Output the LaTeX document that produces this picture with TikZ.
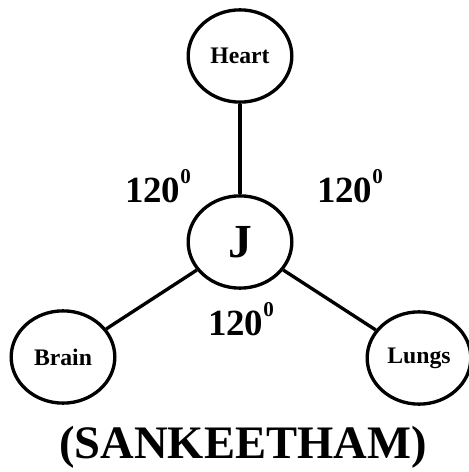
\documentclass[tikz,border=0pt]{standalone}
\usepackage{fontspec}
\setmainfont{Liberation Serif}
\usepackage{tikz}
\usetikzlibrary{shapes.geometric}

\newcommand{\supzero}{\raisebox{1.1ex}{\fontsize{12}{12}\selectfont 0}}

\begin{document}
\begin{tikzpicture}[x=0.02cm, y=-0.02cm]
\tikzset{organ/.style={draw, ellipse, line width=1.9pt, minimum width=59pt, minimum height=52.5pt,
  inner sep=0pt, font=\bfseries\fontsize{13.5}{15}\selectfont}}
\tikzset{angle label/.style={font=\bfseries\fontsize{21}{24}\selectfont}}
\tikzset{link/.style={line width=1.9pt}}
\useasboundingbox (0,0) rectangle (468,472);
% centre and the three organs
\node[organ, font=\bfseries\fontsize{27}{30}\selectfont] (j) at (240,242) {J};
\node[organ] (heart) at (240,56) {Heart};
\node[organ] (brain) at (63,357) {Brain};
\node[organ] (lungs) at (419,358) {Lungs};
\draw[link] (j) -- (heart);
\draw[link] (j) -- (brain);
\draw[link] (j) -- (lungs);
% angles between the links
\node[angle label] (a1) at (158,186) {120\supzero};
\node[angle label] (a2) at (350,186) {120\supzero};
\node[angle label] (a3) at (241,319) {120\supzero};
\node[font=\bfseries\fontsize{26.5}{30}\selectfont] (title) at (243,447) {(SANKEETHAM)};
\end{tikzpicture}
\end{document}
